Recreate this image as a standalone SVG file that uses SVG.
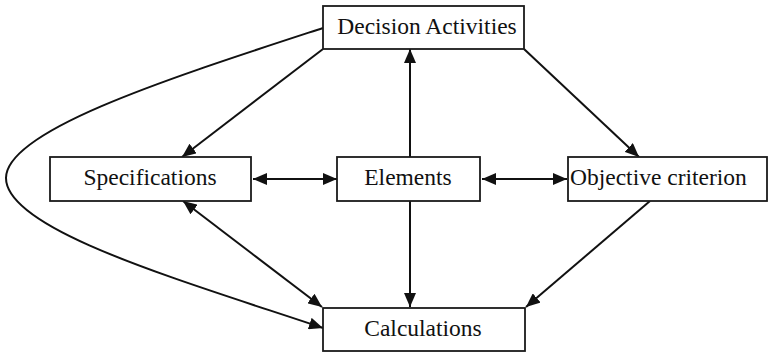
<svg xmlns="http://www.w3.org/2000/svg" width="768" height="352" viewBox="0 0 768 352">
<style>
.box{fill:#fff;stroke:#1a1a1a;stroke-width:1.8}
.lbl{font-family:"Liberation Serif","Times New Roman",serif;font-size:23.5px;fill:#111}
.c{text-anchor:middle}
.con{fill:none;stroke:#111;stroke-width:2}
</style>
<defs>
<marker id="ah" markerUnits="userSpaceOnUse" markerWidth="14" markerHeight="12" refX="14" refY="6" orient="auto-start-reverse" viewBox="0 0 14 12">
<path d="M0,0 L14,6 L0,12 z" fill="#111"/>
</marker>
</defs>
<rect width="768" height="352" fill="#fff"/>
<g id="connectors">
<path class="con" d="M323,49 L182,157" marker-end="url(#ah)"/>
<path class="con" d="M524,49 L639,157" marker-end="url(#ah)"/>
<path class="con" d="M410,157 L410,49" marker-end="url(#ah)"/>
<path class="con" d="M410,201 L410,307" marker-end="url(#ah)"/>
<path class="con" d="M253,179 L337,179" marker-start="url(#ah)" marker-end="url(#ah)"/>
<path class="con" d="M482,179 L567,179" marker-start="url(#ah)" marker-end="url(#ah)"/>
<path class="con" d="M183,201 L322,307" marker-start="url(#ah)" marker-end="url(#ah)"/>
<path class="con" d="M650,201 L526,307" marker-end="url(#ah)"/>
<path class="con" d="M323,28 C170,78 6,130 6,178 C6,230 180,280 323,328" marker-end="url(#ah)"/>
</g>
<g id="decision">
<rect class="box" x="323" y="6" width="201" height="43"/>
<text class="lbl c" x="427" y="34">Decision Activities</text>
</g>
<g id="specifications">
<rect class="box" x="50" y="157" width="201" height="44"/>
<text class="lbl c" x="150" y="185">Specifications</text>
</g>
<g id="elements">
<rect class="box" x="337" y="157" width="143" height="44"/>
<text class="lbl c" x="408" y="185">Elements</text>
</g>
<g id="objective">
<rect class="box" x="568" y="157" width="199" height="44"/>
<text class="lbl" x="570" y="185">Objective criterion</text>
</g>
<g id="calculations">
<rect class="box" x="323" y="308" width="202" height="43"/>
<text class="lbl c" x="423" y="336">Calculations</text>
</g>
</svg>
